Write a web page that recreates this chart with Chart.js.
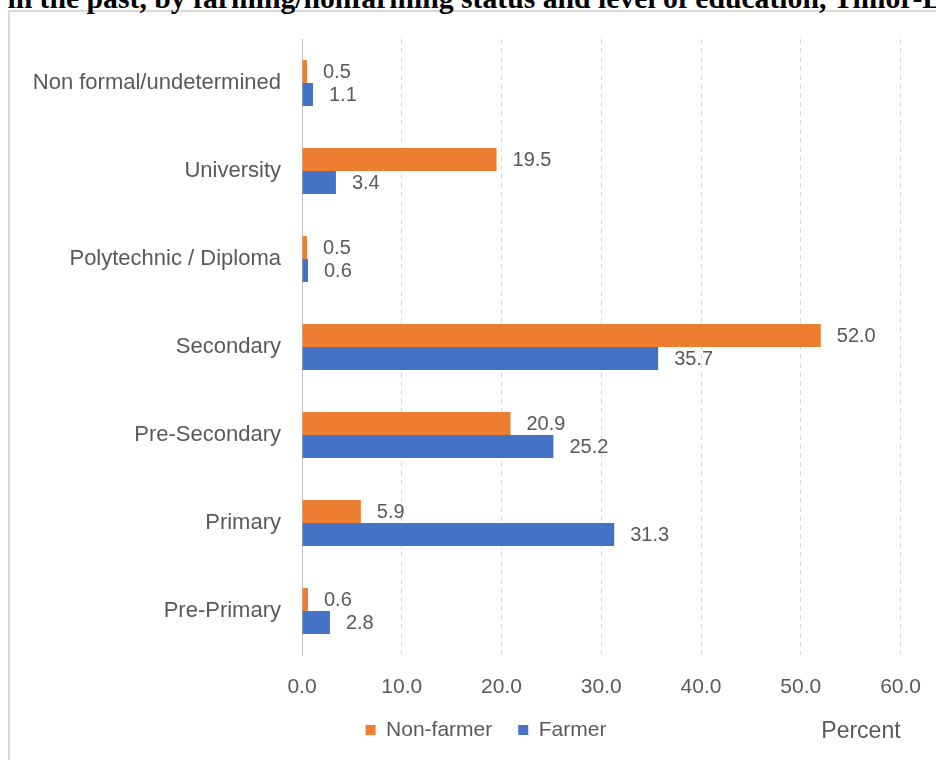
<!DOCTYPE html>
<html>
<head>
<meta charset="utf-8">
<script src="https://cdn.jsdelivr.net/npm/chart.js@4"></script>
<style>
  html, body { margin: 0; padding: 0; background: #fff; }
  #wrap { position: relative; width: 936px; height: 760px; overflow: hidden; }
  #frame { position: absolute; left: 8px; top: 10px; width: 1000px; height: 800px;
           border: 2px solid #d9d9d9; box-sizing: border-box; }
  #title { position: absolute; left: -16.5px; top: -16.5px; white-space: nowrap;
           font: bold 29.7px "Liberation Serif", "Times New Roman", serif; line-height: 29.7px; color: #000; }
  #myChart { position: absolute; left: 0; top: 0; }
</style>
</head>
<body>
<div id="wrap">
  <div id="frame"></div>
  <div id="title">d in the past, by farming/nonfarming status and level of education, Timor-Leste</div>
  <canvas id="myChart" width="936" height="760"></canvas>
</div>
<script>
const categories = ["Non formal/undetermined", "University", "Polytechnic / Diploma", "Secondary", "Pre-Secondary", "Primary", "Pre-Primary"];
const nonFarmer = [0.5, 19.5, 0.5, 52.0, 20.9, 5.9, 0.6];
const farmer = [1.1, 3.4, 0.6, 35.7, 25.2, 31.3, 2.8];
const xTicks = [0, 10, 20, 30, 40, 50, 60];

const labelFont = "'Liberation Sans', Arial, sans-serif";
const gray = "#595959";
const legendLift = 7.5;

// value labels at the end of each bar
const valueLabels = {
    id: "valueLabels",
    afterDatasetsDraw(chart) {
        const ctx = chart.ctx;
        ctx.save();
        ctx.font = "20px " + labelFont;
        ctx.fillStyle = gray;
        ctx.textAlign = "left";
        ctx.textBaseline = "middle";
        chart.data.datasets.forEach((ds, i) => {
            chart.getDatasetMeta(i).data.forEach((bar, j) => {
                ctx.fillText(ds.data[j].toFixed(1), bar.x + 16, bar.y + 1);
            });
        });
        ctx.restore();
    }
};

// legend sits a bit right of centre and a bit higher, "Percent" at the right end of the same row
const legendRow = {
    id: "legendRow",
    beforeDraw(chart) {
        const lg = chart.legend;
        if (!lg._shifted) {
            lg.left += 33;
            lg.right += 33;
            lg.top -= legendLift;
            lg.bottom -= legendLift;
            lg._shifted = true;
        }
    },
    afterDraw(chart) {
        const ctx = chart.ctx;
        const lg = chart.legend;
        ctx.save();
        ctx.font = "23px " + labelFont;
        ctx.fillStyle = gray;
        ctx.textAlign = "right";
        ctx.textBaseline = "middle";
        ctx.fillText("Percent", chart.chartArea.right, lg.top + 26 + 10.5 + 2);
        ctx.restore();
    }
};

new Chart(document.getElementById("myChart"), {
    type: "bar",
    data: {
        labels: categories,
        datasets: [
            { label: "Non-farmer", data: nonFarmer, backgroundColor: "#ED7D31" },
            { label: "Farmer", data: farmer, backgroundColor: "#4472C4" }
        ]
    },
    options: {
        indexAxis: "y",
        responsive: false,
        animation: false,
        categoryPercentage: 0.52,
        barPercentage: 1,
        layout: { padding: { top: 39, right: 30, bottom: 2, left: 0 } },
        scales: {
            x: {
                min: 0,
                max: 60,
                afterBuildTicks: s => { s.ticks = xTicks.map(v => ({ value: v })); },
                ticks: {
                    callback: v => Number(v).toFixed(1),
                    color: gray,
                    font: { size: 21, family: labelFont },
                    padding: 15
                },
                grid: { color: "#d9d9d9", drawTicks: true, tickLength: 5, tickColor: "rgba(0,0,0,0)" },
                border: { display: false, dash: [5, 4] },
                afterFit: s => { s.height = 46; }
            },
            y: {
                grid: { display: false, drawTicks: false },
                border: { color: "#bfbfbf", width: 1 },
                ticks: {
                    color: gray,
                    font: { size: 22, family: labelFont },
                    padding: 21
                },
                afterFit: s => { s.width = 302; }
            }
        },
        plugins: {
            legend: {
                position: "bottom",
                labels: {
                    boxWidth: 10,
                    boxHeight: 10,
                    padding: 26,
                    color: gray,
                    font: { size: 21, family: labelFont }
                }
            },
            tooltip: { enabled: false }
        }
    },
    plugins: [valueLabels, legendRow]
});
</script>
</body>
</html>
